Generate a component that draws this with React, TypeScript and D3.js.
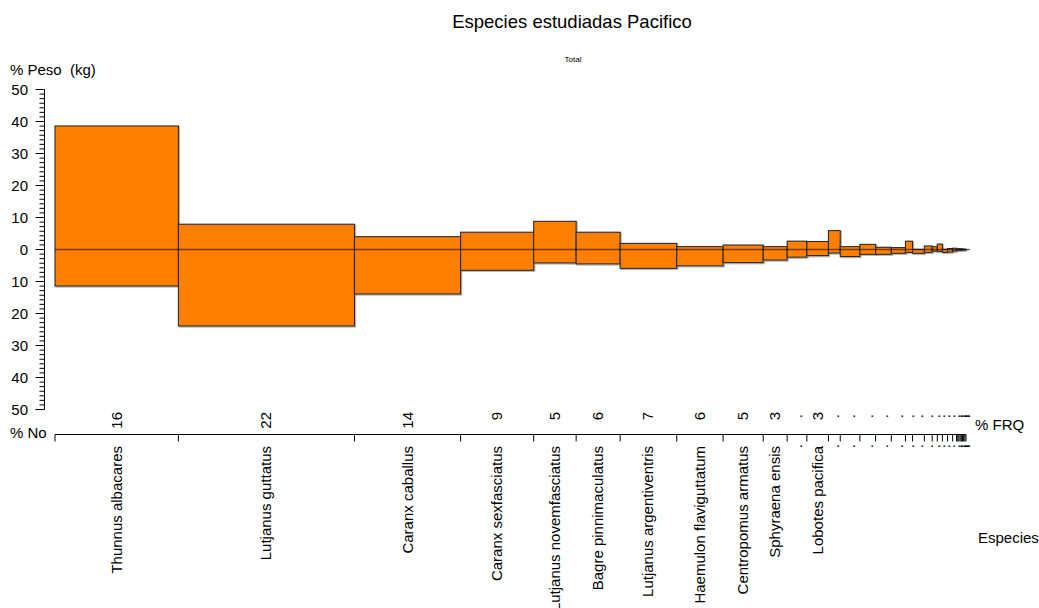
import React from "react";
import * as d3 from "d3";

// Species in plotting order; unnamed minor species are drawn only as dots
const species: string[] = [
  "Thunnus albacares",
  "Lutjanus guttatus",
  "Caranx caballus",
  "Caranx sexfasciatus",
  "Lutjanus novemfasciatus",
  "Bagre pinnimaculatus",
  "Lutjanus argentiventris",
  "Haemulon flaviguttatum",
  "Centropomus armatus",
  "Sphyraena ensis",
  "",
  "Lobotes pacifica",
  "", "", "", "", "", "", "", "", "", "", "", "", "",
  "", "", "", "", "", "", "", "",
];

// Frequency of occurrence (%) -> bar width
const frq: number[] = [
  15.7, 22.4, 13.5, 9.3, 5.4, 5.6, 7.2, 5.9, 5.1, 3.05, 2.5, 2.75,
  1.5, 2.5, 2.0, 2.0, 1.8, 0.9, 1.5, 1.0, 0.65, 0.65, 0.65, 0.65, 0.5,
  0.15, 0.15, 0.15, 0.15, 0.15, 0.15, 0.15, 0.15,
];

// % weight (upward)
const pesoPct: number[] = [
  38.6, 7.9, 4.0, 5.4, 8.8, 5.4, 1.9, 0.9, 1.4, 0.9, 2.6, 2.5,
  5.9, 0.9, 1.6, 0.7, 0.6, 2.6, 0.05, 1.1, 0.9, 1.7, 0.05, 0.3, 0.4,
  0.2, 0.1, 0.3, 0.1, 0.2, 0.1, 0.1, 0.05,
];

// % number (downward)
const noPct: number[] = [
  11.4, 23.9, 13.9, 6.5, 4.2, 4.5, 5.9, 5.1, 4.1, 3.3, 2.4, 1.9,
  1.1, 2.2, 1.5, 1.5, 1.2, 0.9, 1.2, 0.9, 0.5, 0.6, 0.9, 0.8, 0.5,
  0.3, 0.2, 0.1, 0.2, 0.1, 0.1, 0.1, 0.05,
];

const yTicks: number[] = [-50, -40, -30, -20, -10, 0, 10, 20, 30, 40, 50];

const W = 1039;
const H = 608;
const FONT = "'Liberation Sans', Arial, Helvetica, sans-serif";
const FILL = "#FF8000";
const LABEL_MIN = 2.6;

export default function App() {
  const total = d3.sum(frq);
  const cum = [0, ...d3.cumsum(frq)];
  const x = d3.scaleLinear().domain([0, total]).range([55, 966]);
  const y = d3.scaleLinear().domain([-50, 50]).range([409.5, 89.5]);
  const axisY = 434.5;
  const yAxisX = 44.5;

  const minor: number[] = [];
  for (let m = -50; m < 50; m += 10) {
    for (let k = 1; k < 7; k++) minor.push(m + (10 * k) / 7);
  }

  return (
    <svg
      width={W}
      height={H}
      style={{ position: "absolute", left: 0, top: 0, background: "#fff" }}
      fontFamily={FONT}
    >
      {/* title */}
      <text x={572} y={28} fontSize={18.5} textAnchor="middle" fill="#000">
        Especies estudiadas Pacifico
      </text>
      <text x={573} y={62} fontSize={8} textAnchor="middle" fill="#000">
        Total
      </text>

      {/* y axis */}
      <text x={10} y={75} fontSize={15} fill="#000" style={{ whiteSpace: "pre" }}>
        {"% Peso  (kg)"}
      </text>
      <line x1={yAxisX} x2={yAxisX} y1={y(50)} y2={y(-50)} stroke="#000" />
      {minor.map((v, i) => (
        <line key={"mi" + i} x1={yAxisX - 5} x2={yAxisX} y1={y(v)} y2={y(v)} stroke="#000" />
      ))}
      {yTicks.map((v) => (
        <g key={"yt" + v}>
          <line x1={yAxisX - 9} x2={yAxisX} y1={y(v)} y2={y(v)} stroke="#000" />
          <text x={28} y={y(v) + 5.5} fontSize={15} textAnchor="end" fill="#000">
            {Math.abs(v)}
          </text>
        </g>
      ))}

      {/* bars */}
      {frq.map((f, i) => {
        const x0 = x(cum[i]);
        const x1 = x(cum[i + 1]);
        const top = y(pesoPct[i]);
        const bot = y(-noPct[i]);
        return (
          <g key={"b" + i}>
            <rect
              x={x0 + 1}
              y={top + 1}
              width={x1 - x0}
              height={bot - top}
              fill="none"
              stroke="#888"
              strokeOpacity={0.6}
              strokeWidth={1.5}
            />
            <rect
              x={x0}
              y={top}
              width={x1 - x0}
              height={bot - top}
              fill={FILL}
              stroke="#2a2a2a"
              strokeWidth={1.1}
            />
          </g>
        );
      })}
      <line x1={x(0)} x2={x(total) + 4} y1={y(0)} y2={y(0)} stroke="#000" strokeOpacity={0.55} strokeWidth={1.3} />

      {/* x axis */}
      <text x={10} y={438} fontSize={15} fill="#000">% No</text>
      <line x1={x(0)} x2={x(total)} y1={axisY} y2={axisY} stroke="#000" />
      {cum.map((c, i) => (
        <line key={"xt" + i} x1={x(c)} x2={x(c)} y1={axisY} y2={axisY + 7} stroke="#000" />
      ))}
      {frq.map((f, i) => {
        const cx = x((cum[i] + cum[i + 1]) / 2);
        const big = f >= LABEL_MIN;
        return (
          <g key={"lab" + i}>
            <text
              transform={`translate(${cx + 5},${big ? 412 : 414}) rotate(-90)`}
              fontSize={15}
              textAnchor="end"
              fill="#000"
            >
              {big ? String(Math.round(f)) : "."}
            </text>
            <text
              transform={`translate(${cx + 5},${big ? 446 : 444}) rotate(-90)`}
              fontSize={15}
              textAnchor="end"
              fill="#000"
            >
              {big ? species[i] : "."}
            </text>
          </g>
        );
      })}
      <text x={975} y={430} fontSize={15} fill="#000">% FRQ</text>
      <text x={978} y={543} fontSize={15} fill="#000">Especies</text>
    </svg>
  );
}
